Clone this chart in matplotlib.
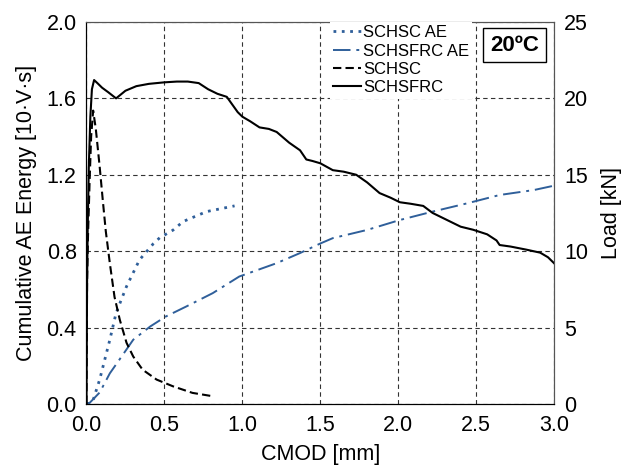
import numpy as np
import matplotlib.pyplot as plt

plt.rcParams['font.family'] = ['Liberation Sans', 'DejaVu Sans']

# Load curves (right axis, kN)
schsfrc_x = [0.0, 0.002, 0.004, 0.008, 0.015, 0.025, 0.035, 0.049, 0.07, 0.1, 0.14, 0.19,
             0.25, 0.32, 0.4, 0.5, 0.58, 0.65, 0.72, 0.78, 0.84, 0.9, 0.97, 1.0,
             1.05, 1.11, 1.17, 1.22, 1.3, 1.37, 1.41, 1.45, 1.5, 1.58, 1.65, 1.73,
             1.8, 1.88, 1.95, 2.01, 2.08, 2.16, 2.22, 2.3, 2.4, 2.48, 2.57, 2.63,
             2.65, 2.72, 2.82, 2.91, 2.96, 3.0]
schsfrc_load = [0.0, 4.0, 8.0, 11.5, 15.5, 18.8, 20.6, 21.2, 21.0, 20.7, 20.4, 20.0,
                20.5, 20.8, 20.95, 21.05, 21.1, 21.1, 21.0, 20.6, 20.3, 20.1, 19.1, 18.8,
                18.5, 18.1, 18.0, 17.8, 17.1, 16.6, 16.0, 15.9, 15.75, 15.3, 15.2, 15.0,
                14.5, 13.8, 13.5, 13.2, 13.1, 12.96, 12.5, 12.1, 11.6, 11.4, 11.1, 10.7,
                10.4, 10.3, 10.1, 9.9, 9.6, 9.2]

schsc_x = [0.0, 0.004, 0.01, 0.02, 0.03, 0.043, 0.06, 0.085, 0.105, 0.124, 0.15, 0.18,
           0.214, 0.257, 0.3, 0.36, 0.45, 0.555, 0.68, 0.81]
schsc_load = [0.0, 8.0, 11.0, 14.5, 17.5, 19.2, 18.0, 15.5, 13.3, 11.3, 9.2, 7.0,
              5.5, 4.0, 3.1, 2.24, 1.59, 1.15, 0.72, 0.5]

# Cumulative AE energy (left axis)
schsc_ae_x = [0.0, 0.02, 0.043, 0.085, 0.15, 0.19, 0.257, 0.34, 0.43, 0.47, 0.555, 0.62,
              0.77, 0.95]
schsc_ae = [0.0, 0.003, 0.02, 0.128, 0.336, 0.476, 0.615, 0.754, 0.84, 0.87, 0.91, 0.955,
            1.007, 1.037]

schsfrc_ae_x = [0.0, 0.02, 0.085, 0.15, 0.21, 0.3, 0.41, 0.51, 0.64, 0.81, 0.98, 1.22,
                1.37, 1.5, 1.58, 1.8, 2.01, 2.22, 2.44, 2.65, 2.87, 3.0]
schsfrc_ae = [0.0, 0.005, 0.06, 0.16, 0.23, 0.336, 0.406, 0.458, 0.51, 0.58, 0.667, 0.737,
              0.79, 0.84, 0.868, 0.911, 0.963, 1.007, 1.05, 1.094, 1.12, 1.143]

blue = '#2f5f9a'

fig, ax = plt.subplots(figsize=(6.22, 4.68), dpi=100)
ax2 = ax.twinx()

ax.plot(schsc_ae_x, schsc_ae, color=blue, linestyle=(0, (1, 2)), linewidth=2.0, label='SCHSC AE')
ax.plot(schsfrc_ae_x, schsfrc_ae, color=blue, linestyle=(0, (9, 3, 1.5, 3)), linewidth=1.4,
        label='SCHSFRC AE')
ax2.plot(schsc_x, schsc_load, color='black', linestyle=(0, (4, 2)), linewidth=1.5, label='SCHSC')
ax2.plot(schsfrc_x, schsfrc_load, color='black', linestyle='-', linewidth=1.5, label='SCHSFRC')

ax.set_xlim(0, 3)
ax.set_ylim(0, 2)
ax2.set_ylim(0, 25)
ax.set_xticks(np.arange(0, 3.01, 0.5))
ax.set_xticklabels(['0.0', '0.5', '1.0', '1.5', '2.0', '2.5', '3.0'])
ax.set_yticks(np.arange(0, 2.01, 0.4))
ax.set_yticklabels(['0.0', '0.4', '0.8', '1.2', '1.6', '2.0'])
ax2.set_yticks(np.arange(0, 26, 5))

ax.grid(True, color='#333333', linestyle=(0, (4, 3)), linewidth=0.8)
ax.tick_params(axis='x', length=0, labelsize=15.5, pad=8)
ax.tick_params(axis='y', length=0, labelsize=15.5, pad=7)
ax2.tick_params(length=0, labelsize=15.5, pad=7)

ax.set_xlabel('CMOD [mm]', fontsize=15.5, labelpad=6)
ax.set_ylabel('Cumulative AE Energy [10·V·s]', fontsize=15.5, labelpad=7)
ax2.set_ylabel('Load [kN]', fontsize=15.5, labelpad=9)

for a in (ax, ax2):
    for s in a.spines.values():
        s.set_color('#555555')
    a.spines['left'].set_color('black')
    a.spines['bottom'].set_color('black')

h1, l1 = ax.get_legend_handles_labels()
h2, l2 = ax2.get_legend_handles_labels()
leg = ax2.legend(h1 + h2, l1 + l2, loc='upper left', bbox_to_anchor=(0.52, 1.0), frameon=True,
                 fontsize=12, handlelength=1.7, handletextpad=0.1, labelspacing=0.2,
                 borderaxespad=0, borderpad=0.2, fancybox=False)
leg.get_frame().set_facecolor('white')
leg.get_frame().set_edgecolor('none')
leg.get_frame().set_alpha(1)

ax2.text(0.915, 0.939, '20ºC', transform=ax.transAxes, fontsize=16, fontweight='bold',
         ha='center', va='center',
         bbox=dict(boxstyle='square,pad=0.3', facecolor='white', edgecolor='black', linewidth=1))

fig.subplots_adjust(left=0.139, right=0.891, top=0.953, bottom=0.137)
fig.savefig('out.png', dpi=100)
